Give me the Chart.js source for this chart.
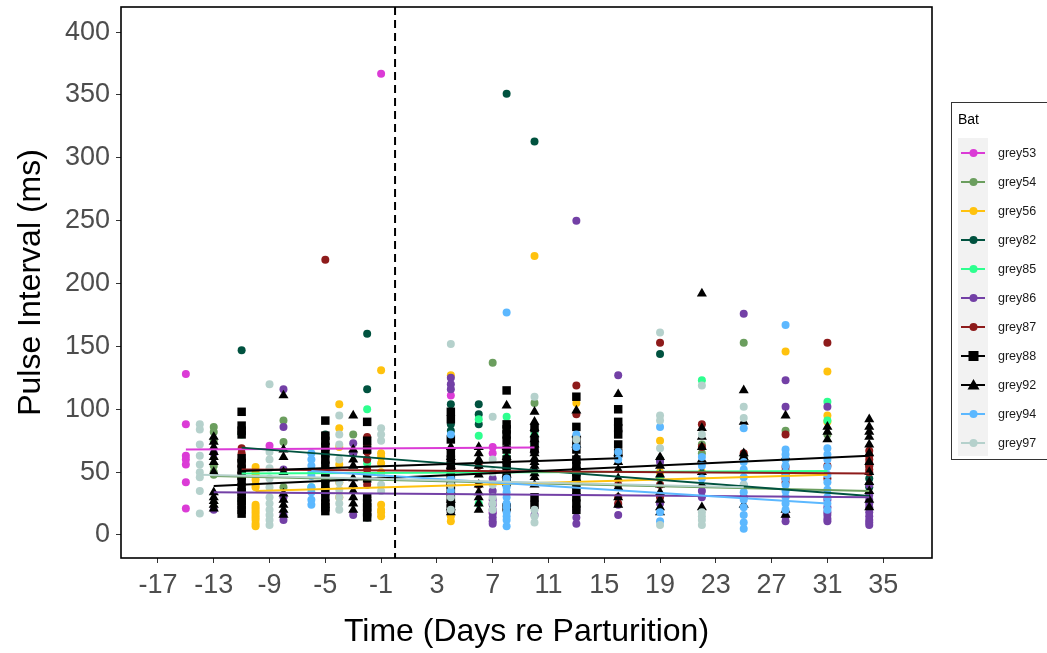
<!DOCTYPE html>
<html>
<head>
<meta charset="utf-8">
<script src="https://cdn.jsdelivr.net/npm/chart.js@4.4.1/dist/chart.umd.min.js"></script>
<style>
  html, body { margin: 0; padding: 0; background: #fff; }
  #wrap { width: 1047px; height: 653px; }
</style>
</head>
<body>
<div id="wrap"><canvas id="chart" width="1047" height="653"></canvas></div>
<script>
// bats, in legend order
const bats = ['grey53', 'grey54', 'grey56', 'grey82', 'grey85', 'grey86', 'grey87', 'grey88', 'grey92', 'grey94', 'grey97'];
const batColors = ['#DB3BD6', '#6B9E5E', '#FFC20E', '#00523F', '#2EFF8F', '#7340A6', '#8E1B1B', '#000000', '#000000', '#5CB8FF', '#B5D1CC'];
const batShapes = ['circle', 'circle', 'circle', 'circle', 'circle', 'circle', 'circle', 'rect', 'triangle', 'circle', 'circle'];

const xTicks = [-17, -13, -9, -5, -1, 3, 7, 11, 15, 19, 23, 27, 31, 35];
const yTicks = [0, 50, 100, 150, 200, 250, 300, 350, 400];
const birthDay = 0;

// [day, pulse intervals (ms)]
const grey53 = [
  [-15, [128, 88, 63, 60, 56, 42, 21]], [-9, [71]], [-1, [367]],
  [4, [111, 55]], [7, [70, 65, 25, 18]], [10, [68]]
];
const grey54 = [
  [-13, [86, 82, 75, 55, 50, 48]], [-8, [91, 74, 38]], [-3, [80, 65]], [7, [137]],
  [10, [105]], [22, [72, 65]], [25, [153]], [28, [83]], [31, [80]], [34, [40]]
];
const grey56 = [
  [-10, [54, 50, 48, 44, 40, 38, 24, 22, 20, 18, 16, 14, 12, 9, 7]], [-4, [104, 85, 70, 56, 42, 30]],
  [-1, [131, 65, 62, 57, 50, 24, 20, 18, 15]], [4, [127, 15, 11]], [10, [222]], [13, [105]],
  [19, [75, 50]], [22, [50]], [28, [146]], [31, [130, 95, 90]]
];
const grey82 = [
  [-11, [147]], [-5, [80]], [-2, [160, 116, 60, 14]], [4, [104, 88, 83]],
  [6, [104, 96, 88]], [8, [351]], [10, [313]], [19, [144, 60]], [25, [62]], [34, [55, 45, 38]]
];
const grey85 = [
  [-11, [80, 28]], [-6, [38]], [-2, [100, 57]], [6, [92, 79, 40, 25]], [8, [94, 62]],
  [10, [80, 72]], [19, [45]], [22, [123]], [31, [106, 91]]
];
const grey86 = [
  [-13, [65, 20]], [-8, [116, 86, 52, 30, 16, 12]], [-3, [73, 65, 16]], [4, [125, 120, 116, 20]],
  [7, [45, 35, 28, 24, 20, 17, 14, 11, 9]], [10, [66, 16]], [13, [250, 20, 14, 9]], [16, [127, 84, 24, 16]],
  [19, [58, 25]], [22, [35, 30]], [25, [176, 30]], [28, [123, 102, 15, 11]],
  [31, [102, 28, 22, 18, 16, 13, 11]], [34, [40, 32, 28, 25, 22, 18, 15, 12, 10, 8]]
];
const grey87 = [
  [-11, [69, 65, 60, 55, 50, 45]], [-5, [219, 72, 65, 58, 52, 25]],
  [-2, [78, 72, 66, 60, 52, 45, 40, 30]], [6, [55, 40]], [13, [119, 96]], [16, [40, 30, 25]],
  [19, [153, 40, 30]], [22, [88, 70]], [25, [65, 60]], [28, [80, 54, 51, 48, 45, 42]],
  [31, [153, 55, 45]], [34, [67, 63, 60, 57, 55, 52, 50]]
];
const grey88 = [
  [-11, [98, 87, 83, 80, 61, 57, 52, 47, 43, 38, 34, 30, 27, 24, 20, 17]],
  [-5, [91, 79, 75, 70, 65, 60, 55, 50, 45, 40, 35, 30, 25, 22, 19]],
  [-2, [90, 75, 68, 45, 30, 25, 22, 18, 14]],
  [4, [98, 92, 76, 65, 60, 55, 50, 45, 40, 35, 30, 25, 21]],
  [8, [115, 88, 84, 80, 75, 68, 60, 55, 48, 42, 22]],
  [10, [85, 75, 68, 30, 24]],
  [13, [110, 86, 75, 68, 60, 55, 50, 45, 40, 35, 30, 25, 20]],
  [16, [100, 90, 85, 80, 72, 65]]
];
const grey92 = [
  [-13, [78, 74, 70, 66, 62, 58, 50, 34, 30, 27, 24, 21]],
  [-8, [111, 68, 62, 50, 33, 28, 24, 20, 16]],
  [-3, [95, 68, 60, 55, 45, 40, 35, 30, 25, 20]],
  [4, [70, 62, 55, 50, 42, 35, 28, 22, 18]],
  [6, [70, 65, 60, 55, 48, 40, 34, 30, 25, 20]],
  [8, [103, 70, 62, 55, 48]],
  [10, [98, 90, 85, 80, 76, 72, 68, 65, 61, 58, 55, 52, 49, 46, 40]],
  [13, [99, 80, 72, 62, 55, 45]],
  [16, [112, 65, 58, 52, 45, 38, 30, 24]],
  [19, [62, 55, 48, 40, 34, 28, 22, 18]],
  [22, [192, 85, 78, 70, 60, 50, 40, 22]],
  [25, [115, 90, 65, 62, 24]],
  [28, [95, 62, 20, 16]],
  [31, [86, 82, 76]],
  [34, [92, 86, 82, 78, 72, 65, 58, 50, 42, 35, 28, 22]]
];
const grey94 = [
  [-6, [65, 60, 55, 50, 47, 38, 34, 28, 24]], [4, [80, 45, 35]],
  [8, [177, 45, 38, 34, 30, 25, 22, 18, 15, 12, 7]], [13, [80, 70]], [16, [66, 60]], [19, [86, 18, 11]],
  [22, [62, 55, 45]], [25, [85, 58, 52, 46, 40, 34, 28, 22, 16, 10, 5]],
  [28, [167, 68, 64, 60, 55, 50, 45, 40, 35, 30, 25, 20]], [31, [69, 64, 60, 54, 48, 42, 36, 30, 25, 20]]
];
const grey97 = [
  [-14, [88, 84, 72, 63, 56, 50, 46, 35, 17]],
  [-9, [120, 66, 60, 53, 45, 38, 30, 25, 20, 16, 12, 8]],
  [-4, [95, 80, 72, 60, 42, 36, 30, 25, 20]],
  [-1, [85, 80, 75, 47, 40, 35]],
  [4, [152, 40, 30, 20]], [7, [94, 60, 50, 40, 30, 25, 20]], [10, [110, 20, 15, 10]],
  [13, [76]], [19, [161, 95, 91, 69, 8]], [22, [119, 80, 18, 15, 12, 8]], [25, [102, 93, 40]]
];
const batPoints = [grey53, grey54, grey56, grey82, grey85, grey86, grey87, grey88, grey92, grey94, grey97];

// linear fits per bat: [first day, last day] and fitted values there
const fitDays = [[-15, 10], [-13, 34], [-10, 31], [-11, 34], [-11, 31], [-13, 34], [-11, 34], [-11, 16], [-13, 34], [-6, 31], [-14, 25]];
const fitValues = [[68, 69.5], [47, 35], [35, 48], [69.5, 31], [49, 51], [34, 30], [52, 49], [51, 61], [39, 63], [51, 25], [48, 38]];

const flatten = rows => rows.flatMap(([d, vals]) => vals.map(v => ({x: d, y: v})));

const datasets = [];
bats.forEach((b, i) => {
  datasets.push({
    type: 'scatter',
    label: b,
    data: flatten(batPoints[i]),
    pointStyle: batShapes[i],
    pointRadius: batShapes[i] === 'rect' ? 6 : batShapes[i] === 'triangle' ? 5.8 : 4,
    pointBackgroundColor: batColors[i],
    pointBorderWidth: 0,
    borderColor: batColors[i],
    order: 50 - i
  });
});
bats.forEach((b, i) => {
  datasets.push({
    type: 'line',
    label: b + ' fit',
    data: fitDays[i].map((d, k) => ({x: d, y: fitValues[i][k]})),
    borderColor: batColors[i],
    borderWidth: 2,
    pointRadius: 0,
    fill: false,
    order: 20 - i
  });
});

const tickFont = {family: 'Liberation Sans, Arial, sans-serif', size: 27};
const titleFont = {family: 'Liberation Sans, Arial, sans-serif', size: 32};

const decorations = {
  id: 'decorations',
  afterDatasetsDraw(chart) {
    const {ctx, chartArea: a, scales: {x}} = chart;
    const xb = x.getPixelForValue(birthDay);
    ctx.save();
    ctx.strokeStyle = '#000';
    ctx.lineWidth = 2;
    ctx.setLineDash([8, 5]);
    ctx.beginPath();
    ctx.moveTo(xb, a.top);
    ctx.lineTo(xb, a.bottom);
    ctx.stroke();
    ctx.setLineDash([]);
    ctx.lineWidth = 1.6;
    ctx.strokeRect(a.left, a.top, a.right - a.left, a.bottom - a.top);
    ctx.restore();
  },
  afterDraw(chart) {
    const ctx = chart.ctx;
    ctx.save();
    // legend box
    ctx.strokeStyle = '#333';
    ctx.lineWidth = 1;
    ctx.strokeRect(951.5, 102.5, 110, 357);
    ctx.fillStyle = '#000';
    ctx.font = '14px Liberation Sans, Arial, sans-serif';
    ctx.textBaseline = 'middle';
    ctx.fillText('Bat', 958, 120);
    ctx.fillStyle = '#F2F2F2';
    ctx.fillRect(958, 138, 30, 318);
    ctx.font = '12.5px Liberation Sans, Arial, sans-serif';
    bats.forEach((b, i) => {
      const y = 153 + i * 29;
      const c = batColors[i];
      ctx.strokeStyle = c;
      ctx.lineWidth = 2;
      ctx.beginPath();
      ctx.moveTo(961, y);
      ctx.lineTo(985, y);
      ctx.stroke();
      ctx.fillStyle = c;
      ctx.beginPath();
      if (batShapes[i] === 'rect') {
        ctx.rect(968.5, y - 5, 10, 10);
      } else if (batShapes[i] === 'triangle') {
        ctx.moveTo(973.5, y - 6);
        ctx.lineTo(979.5, y + 4.5);
        ctx.lineTo(967.5, y + 4.5);
        ctx.closePath();
      } else {
        ctx.arc(973.5, y, 4, 0, Math.PI * 2);
      }
      ctx.fill();
      ctx.fillStyle = '#1A1A1A';
      ctx.fillText(b, 998, y + 1);
    });
    ctx.restore();
  }
};

const chart = new Chart(document.getElementById('chart'), {
  data: {datasets: datasets},
  options: {
    responsive: false,
    animation: false,
    devicePixelRatio: 1,
    layout: {padding: {top: 7, right: 115, left: 0, bottom: 0}},
    plugins: {legend: {display: false}, tooltip: {enabled: false}},
    scales: {
      x: {
        type: 'linear',
        min: -19.65,
        max: 38.5,
        afterBuildTicks: s => { s.ticks = xTicks.map(v => ({value: v})); },
        afterFit: s => { s.height = 95; s.paddingLeft = 0; s.paddingRight = 0; },
        ticks: {font: tickFont, color: '#4D4D4D', padding: 6, maxRotation: 0, autoSkip: false},
        grid: {drawOnChartArea: false, drawTicks: true, tickLength: 5, color: '#333'},
        border: {display: false},
        title: {display: true, text: 'Time (Days re Parturition)', font: titleFont, color: '#000', padding: {top: 0, bottom: 2}}
      },
      y: {
        type: 'linear',
        min: -18.3,
        max: 420,
        afterBuildTicks: s => { s.ticks = yTicks.map(v => ({value: v})); },
        afterFit: s => { s.width = 121; s.paddingTop = 0; s.paddingBottom = 0; },
        ticks: {font: tickFont, color: '#4D4D4D', padding: 6},
        grid: {drawOnChartArea: false, drawTicks: true, tickLength: 5, color: '#333'},
        border: {display: false},
        title: {display: true, text: 'Pulse Interval (ms)', font: titleFont, color: '#000', padding: {top: 12, bottom: 0}}
      }
    }
  },
  plugins: [decorations]
});
</script>
</body>
</html>
